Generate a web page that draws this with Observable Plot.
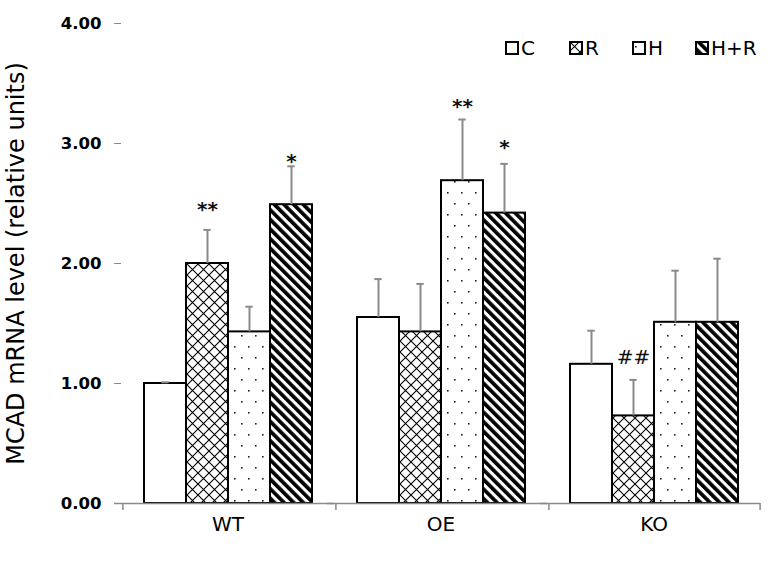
<!DOCTYPE html>
<html>
<head>
<meta charset="utf-8">
<script src="https://cdn.jsdelivr.net/npm/d3@7"></script>
<script src="https://cdn.jsdelivr.net/npm/@observablehq/plot@0.6"></script>
<style>
  html, body { margin: 0; padding: 0; background: #fff; }
  #wrap { position: relative; width: 771px; height: 569px; font-family: "DejaVu Sans", sans-serif; }
  .leg { position: absolute; top: 38px; display: flex; align-items: center; font-size: 20px; color: #000; line-height: 20px; }
  .leg svg { margin-right: 2px; }
</style>
</head>
<body>
<svg width="0" height="0" style="position:absolute">
  <defs>
    <pattern id="pat-C" patternUnits="userSpaceOnUse" width="10" height="10">
      <rect width="10" height="10" fill="#fff"/>
    </pattern>
    <pattern id="pat-R" patternUnits="userSpaceOnUse" width="11" height="11">
      <rect width="11" height="11" fill="#fff"/>
      <path d="M0,0L11,11M11,0L0,11" stroke="#000" stroke-width="1.1" fill="none"/>
    </pattern>
    <pattern id="pat-H" patternUnits="userSpaceOnUse" width="14" height="22">
      <rect width="14" height="22" fill="#fff"/>
      <rect x="3" y="5" width="1.6" height="1.6" fill="#222"/>
      <rect x="10" y="16" width="1.6" height="1.6" fill="#222"/>
    </pattern>
    <pattern id="pat-HR" patternUnits="userSpaceOnUse" width="6.8" height="6.8" patternTransform="rotate(-45)">
      <rect width="6.8" height="6.8" fill="#fff"/>
      <rect width="3.7" height="6.8" fill="#000"/>
    </pattern>
  </defs>
</svg>
<div id="wrap"></div>
<script>
// ---- data ----
const groups = ["WT", "OE", "KO"];
const treatments = ["C", "R", "H", "H+R"];
const wtMeans = [1.00, 2.00, 1.43, 2.49];
const oeMeans = [1.55, 1.43, 2.69, 2.42];
const koMeans = [1.16, 0.73, 1.51, 1.51];
const wtErrors = [0.01, 0.28, 0.21, 0.32];
const oeErrors = [0.32, 0.40, 0.51, 0.41];
const koErrors = [0.28, 0.30, 0.43, 0.53];
const yTicks = [0, 1, 2, 3, 4];
const annotGroups = ["WT", "WT", "OE", "OE", "KO"];
const annotTreats = ["R", "H+R", "H", "H+R", "R"];
const annotLabels = ["**", "*", "**", "*", "##"];
const annotLevels = [2.48, 2.88, 3.34, 3.00, 1.22];
const yLabel = "MCAD mRNA level (relative units)";
const patternIds = {"C": "pat-C", "R": "pat-R", "H": "pat-H", "H+R": "pat-HR"};

const meansBy = {WT: wtMeans, OE: oeMeans, KO: koMeans};
const errsBy = {WT: wtErrors, OE: oeErrors, KO: koErrors};
const rows = groups.flatMap(g => treatments.map((t, j) => ({
  group: g, treat: t, mean: meansBy[g][j], top: meansBy[g][j] + errsBy[g][j]
})));
const annots = annotLabels.map((s, i) => ({group: annotGroups[i], treat: annotTreats[i], label: s, level: annotLevels[i]}));

const W = 771, H = 569, ML = 121, MR = 11, MT = 23, MB = 66;
const bw = (W - ML - MR) / groups.length / (treatments.length + 1);
const gray = "#8a8a8a";

const barMarks = treatments.map(t => Plot.barY(rows.filter(d => d.treat === t), {
  fx: "group", x: "treat", y: "mean", fill: `url(#${patternIds[t]})`, stroke: "#000", strokeWidth: 2
}));

const chart = Plot.plot({
  width: W, height: H,
  marginLeft: ML, marginRight: MR, marginTop: MT, marginBottom: MB,
  style: {fontFamily: "DejaVu Sans, sans-serif", fontSize: "16px", background: "#fff", color: "#000"},
  fx: {domain: groups, padding: 0, axis: null, label: null},
  x: {domain: treatments, paddingInner: 0, paddingOuter: 0.5, axis: null},
  y: {domain: [0, 4], axis: null},
  marks: [
    ...barMarks,
    Plot.ruleX(rows, {fx: "group", x: "treat", y1: "mean", y2: "top", stroke: gray, strokeWidth: 2}),
    Plot.tickY(rows, {fx: "group", x: "treat", y: "top", stroke: gray, strokeWidth: 2, insetLeft: (bw - 8) / 2, insetRight: (bw - 8) / 2}),
    Plot.ruleY([0], {stroke: gray, strokeWidth: 1.5, insetLeft: -7}),
    Plot.ruleX(groups, {fx: d => d, x: () => "C", dx: -bw, y1: () => 0, insetBottom: -7, stroke: gray, strokeWidth: 1.5}),
    Plot.ruleX(["KO"], {fx: d => d, x: () => "H+R", dx: bw, y1: () => 0, insetBottom: -7, stroke: gray, strokeWidth: 1.5}),
    Plot.axisY({ticks: yTicks, tickFormat: d3.format(".2f"), tickSize: 7, tickPadding: 13, line: true,
      stroke: gray, fill: "#000", fontWeight: "bold", fontSize: 16.5, label: null}),
    Plot.text([yLabel], {fx: () => "WT", text: d => d, frameAnchor: "left", textAnchor: "middle", lineAnchor: "middle",
      rotate: -90, dx: -105, fontSize: 24, fill: "#000"}),
    Plot.axisFx({anchor: "bottom", tickSize: 0, tickPadding: 13, fontSize: 20, label: null, fill: "#000"}),
    Plot.text(annots.filter(d => d.label !== "##"), {fx: "group", x: "treat", y: "level", text: "label", fontSize: 20, fontWeight: "bold",
      fill: "#111", dy: 4}),
    Plot.text(annots.filter(d => d.label === "##"), {fx: "group", x: "treat", y: "level", text: "label", fontSize: 20,
      fill: "#111"})
  ]
});

const wrap = document.getElementById("wrap");
wrap.appendChild(chart);

const legendLefts = [505, 569, 632, 695];
treatments.forEach((t, i) => {
  const item = document.createElement("div");
  item.className = "leg";
  item.style.left = legendLefts[i] + "px";
  item.innerHTML = `<svg width="14" height="14"><rect x="1" y="1" width="12" height="12" fill="url(#${patternIds[t]})" stroke="#000" stroke-width="2"/></svg><span>${t}</span>`;
  wrap.appendChild(item);
});
</script>
</body>
</html>
